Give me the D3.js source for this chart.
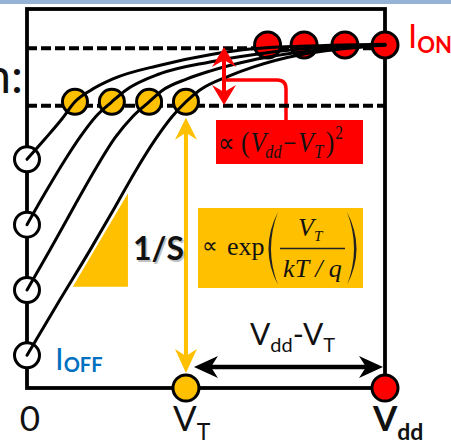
<!DOCTYPE html>
<html>
<head>
<meta charset="utf-8">
<script src="https://cdn.jsdelivr.net/npm/d3@7"></script>
<style>
  html, body { margin: 0; padding: 0; background: #fff; }
  svg { display: block; }
</style>
</head>
<body>
<svg id="chart" width="451" height="445"></svg>
<script>
// Gate voltage is expressed as a fraction of Vdd, drain current as log10(I).
const thresholdVoltages = [0.134, 0.237, 0.341, 0.444];
const onVoltages = [0.672, 0.774, 0.888, 1.0];
const offLogCurrents = [-8, -9, -10, -11];
const thresholdLogCurrent = -7.12;
const onLogCurrent = -6.25;
const onGuideLogCurrent = -6.30;
const thresholdGuideLogCurrent = -7.18;

// One transfer curve per device, from I_OFF at V=0 up to I_ON at Vdd.
const curveVoltages = [
  [0, 0.050, 0.098, 0.134, 0.176, 0.240, 0.372, 0.511, 0.631, 0.763, 0.883, 1.0],
  [0, 0.050, 0.106, 0.148, 0.193, 0.237, 0.274, 0.372, 0.511, 0.631, 0.771, 0.883, 1.0],
  [0, 0.064, 0.134, 0.190, 0.246, 0.296, 0.341, 0.377, 0.447, 0.511, 0.631, 0.763, 0.883, 1.0],
  [0, 0.092, 0.176, 0.246, 0.302, 0.358, 0.405, 0.444, 0.483, 0.567, 0.631, 0.763, 0.883, 1.0]
];
const curveLogCurrents = [
  [-8.00, -7.69, -7.38, -7.12, -6.95, -6.77, -6.56, -6.40, -6.31, -6.27, -6.25, -6.24],
  [-9.00, -8.52, -8.01, -7.66, -7.34, -7.12, -6.95, -6.69, -6.51, -6.40, -6.31, -6.27, -6.25],
  [-10.00, -9.39, -8.70, -8.16, -7.67, -7.34, -7.12, -6.95, -6.77, -6.65, -6.48, -6.36, -6.28, -6.25],
  [-11.00, -10.15, -9.39, -8.73, -8.19, -7.70, -7.35, -7.12, -6.94, -6.72, -6.59, -6.40, -6.31, -6.25]
];

// Axis ticks along the gate-voltage axis
const xTickValues = [0, thresholdVoltages[3], 1.0];
const xTickMain = ["0", "V", "V"];
const xTickSub = ["", "T", "dd"];

const YELLOW = "#ffc000";
const RED = "#ff0000";

const svg = d3.select("#chart");
const x = d3.scaleLinear().domain([0, 1]).range([27, 385]);
const y = d3.scaleLinear().domain([-11.5, -5.7]).range([388, 9]);
const yMin = y.domain()[0];

// Stealth-style arrowhead path
function arrowHead(tx, ty, dx, dy, len, hw, notch) {
  const px = -dy, py = dx;
  const bx = tx - dx * len, by = ty - dy * len;
  const nx = tx - dx * (len - notch), ny = ty - dy * (len - notch);
  return `M${tx},${ty}L${bx + px * hw},${by + py * hw}L${nx},${ny}L${bx - px * hw},${by - py * hw}Z`;
}

// Lays out formula pieces left to right, then squeezes them into the given width
function formula(parent, pieces, x0, baseline, width) {
  const g = parent.append("g");
  let cursor = 0;
  pieces.forEach(p => {
    cursor += p.pre || 0;
    const t = g.append("text").attr("x", cursor).attr("y", p.dy || 0)
      .attr("font-family", "Liberation Serif").attr("font-size", p.size)
      .attr("font-style", p.italic ? "italic" : "normal").attr("fill", "#111").text(p.text);
    cursor += t.node().getComputedTextLength() + (p.post || 0);
  });
  g.attr("transform", `translate(${x0},${baseline}) scale(${width / cursor},1)`);
  return g;
}

// Slide header band and trailing heading text
svg.append("rect").attr("x", 0).attr("y", 0).attr("width", 451).attr("height", 4).attr("fill", "#95b3d7");
svg.append("text").attr("x", 23).attr("y", 93).attr("text-anchor", "end")
  .attr("font-family", "Lato").attr("font-size", 48).attr("fill", "#111").text("n:");

// Subthreshold slope triangle
const tri = [[x(0.128), y(-9.95)], [x(0.282), y(-9.95)], [x(0.282), y(-8.52)]];
svg.append("path").attr("d", d3.line()(tri) + "Z").attr("fill", YELLOW);

// Exponential dependence box
const serif = "Liberation Serif";
const yb = svg.append("g");
yb.append("rect").attr("x", 198).attr("y", 208).attr("width", 165).attr("height", 80).attr("fill", YELLOW);
yb.append("text").attr("x", 202).attr("y", 253).attr("font-family", serif).attr("font-size", 22).attr("fill", "#111").text("\u221D");
yb.append("text").attr("x", 227).attr("y", 255).attr("font-family", serif).attr("font-size", 26).attr("fill", "#111").text("exp");
yb.append("path").attr("d", "M278,212 Q259,248.5 278,285 Q264,248.5 278,212Z").attr("fill", "#222");
yb.append("path").attr("d", "M347,212 Q366,248.5 347,285 Q361,248.5 347,212Z").attr("fill", "#222");
yb.append("text").attr("x", 298).attr("y", 236).attr("font-family", serif).attr("font-style", "italic").attr("font-size", 26).attr("fill", "#111").text("V");
yb.append("text").attr("x", 314).attr("y", 241).attr("font-family", serif).attr("font-style", "italic").attr("font-size", 15).attr("fill", "#111").text("T");
yb.append("line").attr("x1", 280).attr("x2", 345).attr("y1", 248.5).attr("y2", 248.5).attr("stroke", "#222").attr("stroke-width", 1.5);
yb.append("text").attr("x", 312.5).attr("y", 277).attr("text-anchor", "middle").attr("font-family", serif)
  .attr("font-style", "italic").attr("font-size", 26).attr("fill", "#111").text("kT / q");

// Square-law box and its leader
const rb = svg.append("g");
rb.append("path").attr("d", "M224,80 H277 Q286,80 286,89 V120").attr("fill", "none").attr("stroke", RED).attr("stroke-width", 3.5);
rb.append("rect").attr("x", 216).attr("y", 120).attr("width", 147).attr("height", 44).attr("fill", RED);
formula(rb, [
  { text: "\u221D", size: 27, post: 8 },
  { text: "(", size: 30, post: 1 },
  { text: "V", size: 30, italic: true, post: -1 },
  { text: "dd", size: 19, italic: true, dy: 6, post: 2 },
  { text: "\u2212", size: 27, post: 2 },
  { text: "V", size: 30, italic: true, post: 0.5 },
  { text: "T", size: 19, italic: true, dy: 6, post: 3 },
  { text: ")", size: 30, post: 1 },
  { text: "2", size: 18, dy: -13 }
], 218, 152, 125);

// Guide lines at I_ON and at the threshold current
[onGuideLogCurrent, thresholdGuideLogCurrent].forEach(v => {
  svg.append("line").attr("x1", x(0)).attr("x2", x(1)).attr("y1", y(v)).attr("y2", y(v))
    .attr("stroke", "#000").attr("stroke-width", 4).attr("stroke-dasharray", "10,4");
});

// Plot frame
svg.append("rect").attr("x", x(0)).attr("y", y(-5.7)).attr("width", x(1) - x(0)).attr("height", y(yMin) - y(-5.7))
  .attr("fill", "none").attr("stroke", "#000").attr("stroke-width", 3.8);

// Operating points
const R = 12.5;
svg.append("g").selectAll("circle").data(offLogCurrents).join("circle")
  .attr("cx", x(0)).attr("cy", d => y(d)).attr("r", R).attr("fill", "#fff").attr("stroke", "#000").attr("stroke-width", 3);
svg.append("g").selectAll("circle").data(thresholdVoltages).join("circle")
  .attr("cx", d => x(d)).attr("cy", y(thresholdLogCurrent)).attr("r", R).attr("fill", YELLOW).attr("stroke", "#000").attr("stroke-width", 3);
svg.append("g").selectAll("circle").data(onVoltages).join("circle")
  .attr("cx", d => x(d)).attr("cy", y(onLogCurrent)).attr("r", R + 0.5).attr("fill", RED).attr("stroke", "#000").attr("stroke-width", 3);

// Transfer curves
const line = d3.line().x(d => x(d[0])).y(d => y(d[1])).curve(d3.curveMonotoneX);
svg.append("g").selectAll("path").data(curveVoltages.map((vs, i) => vs.map((v, j) => [v, curveLogCurrents[i][j]])))
  .join("path").attr("d", line).attr("fill", "none").attr("stroke", "#000").attr("stroke-width", 3).attr("stroke-linecap", "round");

// I_ON / I_th ratio arrow
const rx = 224, rTop = 47, rBot = 105;
svg.append("line").attr("x1", rx).attr("x2", rx).attr("y1", rTop + 12).attr("y2", rBot - 12).attr("stroke", RED).attr("stroke-width", 4);
svg.append("path").attr("d", arrowHead(rx, rTop, 0, -1, 20, 12, 7)).attr("fill", RED);
svg.append("path").attr("d", arrowHead(rx, rBot, 0, 1, 20, 12, 7)).attr("fill", RED);

// V_T drop from threshold point to the voltage axis
const vx = x(thresholdVoltages[3]);
const vTop = y(thresholdLogCurrent) + 16, vBot = y(yMin) - 15;
svg.append("line").attr("x1", vx).attr("x2", vx).attr("y1", vTop + 12).attr("y2", vBot - 12).attr("stroke", YELLOW).attr("stroke-width", 4);
svg.append("path").attr("d", arrowHead(vx, vTop, 0, -1, 22, 11, 7)).attr("fill", YELLOW);
svg.append("path").attr("d", arrowHead(vx, vBot, 0, 1, 24, 11, 7)).attr("fill", YELLOW);

// Points on the voltage axis
svg.append("circle").attr("cx", vx).attr("cy", y(yMin)).attr("r", R + 0.5).attr("fill", YELLOW).attr("stroke", "#000").attr("stroke-width", 3);
svg.append("circle").attr("cx", x(1)).attr("cy", y(yMin)).attr("r", R + 0.5).attr("fill", RED).attr("stroke", "#000").attr("stroke-width", 3);

// Vdd - VT span arrow
const hy = y(-11.18), hl = vx + 8, hr = x(1) - 2;
svg.append("line").attr("x1", hl + 14).attr("x2", hr - 14).attr("y1", hy).attr("y2", hy).attr("stroke", "#000").attr("stroke-width", 4.5);
svg.append("path").attr("d", arrowHead(hl, hy, -1, 0, 24, 11, 7)).attr("fill", "#000");
svg.append("path").attr("d", arrowHead(hr, hy, 1, 0, 24, 11, 7)).attr("fill", "#000");

const sans = "Lato";
const span = svg.append("text").attr("x", 250).attr("y", 345).attr("font-family", sans).attr("font-size", 30).attr("fill", "#111");
span.append("tspan").text("V");
span.append("tspan").attr("font-size", 20).attr("dy", 7).text("dd");
span.append("tspan").attr("dy", -7).text("-V");
span.append("tspan").attr("font-size", 20).attr("dy", 7).text("T");

// 1/S slope label
svg.append("text").attr("x", 134.5).attr("y", 261.5).attr("font-family", sans).attr("font-weight", 700)
  .attr("font-size", 32).attr("fill", "#999").attr("opacity", 0.6).text("1/S");
svg.append("text").attr("x", 133).attr("y", 260).attr("font-family", sans).attr("font-weight", 700)
  .attr("font-size", 32).attr("fill", "#111").text("1/S");

// Current labels
const ion = svg.append("text").attr("x", 408).attr("y", 48).attr("font-family", sans).attr("fill", RED);
ion.append("tspan").attr("font-size", 33).text("I");
ion.append("tspan").attr("font-size", 22).attr("font-weight", 700).attr("dy", 5).text("ON");
const ioff = svg.append("text").attr("x", 55).attr("y", 370).attr("font-family", sans).attr("fill", "#0070c0");
ioff.append("tspan").attr("font-size", 31).text("I");
ioff.append("tspan").attr("font-size", 20).attr("font-weight", 700).attr("dy", 2).text("OFF");

// Voltage axis tick labels
xTickValues.forEach((v, i) => {
  const bold = i === 2;
  const t = svg.append("text").attr("x", x(v) + (i === 0 ? 3 : i === 1 ? -13 : -12)).attr("y", 431)
    .attr("font-family", sans).attr("font-size", 35).attr("font-weight", bold ? 700 : 400).attr("fill", "#111")
    .attr("text-anchor", i === 0 ? "middle" : "start");
  t.append("tspan").text(xTickMain[i]);
  if (xTickSub[i]) t.append("tspan").attr("font-size", 23).attr("dy", 9).text(xTickSub[i]);
});
</script>
</body>
</html>
